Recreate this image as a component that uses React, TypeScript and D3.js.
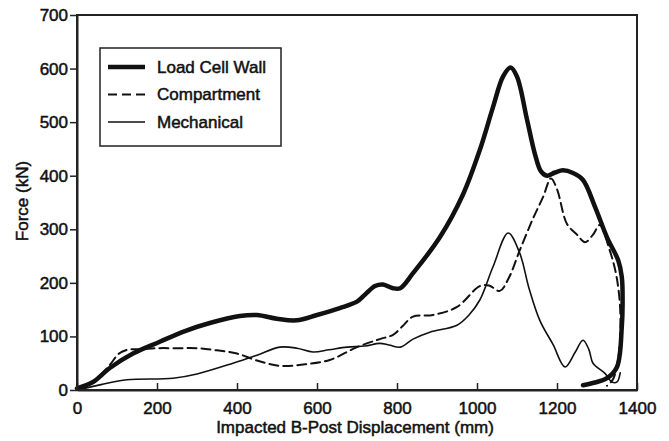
import { useEffect, useRef } from 'react';
import * as d3 from 'd3';

// values (mm, kN)
const loadCellX = [0, 40, 82, 140, 207, 270, 332, 407, 450, 500, 549, 600, 657, 700, 720, 745, 765, 790, 808, 840, 907, 965, 1007, 1040, 1065, 1084, 1100, 1125, 1145, 1160, 1175, 1195, 1215, 1240, 1265, 1295, 1325, 1353, 1362, 1364, 1362, 1350, 1325, 1295, 1265];
const loadCellY = [3, 15, 41, 68, 90, 110, 125, 138, 140, 133, 130, 140, 153, 165, 178, 194, 197, 190, 190, 218, 285, 365, 448, 528, 585, 602, 585, 505, 440, 408, 400, 406, 410, 405, 392, 342, 285, 242, 211, 160, 118, 43, 22, 14, 9];

const compartmentX = [0, 40, 80, 105, 125, 160, 200, 250, 300, 350, 400, 450, 507, 570, 632, 700, 757, 790, 815, 840, 890, 950, 1007, 1030, 1057, 1080, 1107, 1140, 1165, 1185, 1200, 1225, 1250, 1270, 1290, 1307, 1330, 1348, 1358, 1355, 1340, 1325];
const compartmentY = [0, 15, 45, 68, 75, 76, 78, 78, 78, 74, 68, 55, 45, 48, 56, 80, 95, 103, 120, 137, 140, 155, 194, 195, 185, 210, 261, 320, 360, 395, 375, 310, 290, 276, 290, 308, 265, 215, 150, 70, 20, 8];

const mechanicalX = [0, 60, 125, 240, 300, 390, 450, 507, 550, 590, 630, 675, 720, 757, 780, 808, 840, 882, 950, 980, 1007, 1040, 1078, 1107, 1130, 1157, 1190, 1220, 1245, 1265, 1280, 1290, 1320, 1337, 1350, 1358];
const mechanicalY = [0, 10, 19, 22, 30, 50, 65, 80, 78, 71, 75, 80, 82, 87, 84, 80, 95, 108, 121, 140, 168, 230, 293, 255, 190, 130, 85, 43, 70, 93, 75, 50, 31, 15, 15, 32];

const xTicks = [0, 200, 400, 600, 800, 1000, 1200, 1400];
const yTicks = [0, 100, 200, 300, 400, 500, 600, 700];

const legendNames = ['Load Cell Wall', 'Compartment', 'Mechanical'];

const W = 669;
const H = 441;
const left = 77, right = 637, top = 15, bottom = 390;
const font = 'Arial, "Liberation Sans", sans-serif';

export default function App() {
  const svgRef = useRef<SVGSVGElement>(null);

  useEffect(() => {
    const svg = d3.select(svgRef.current);
    svg.selectAll('*').remove();

    const x = d3.scaleLinear().domain([0, 1400]).range([left, right]);
    const y = d3.scaleLinear().domain([0, 700]).range([bottom, top]);

    const series = [
      { xs: loadCellX, ys: loadCellY, width: 4.5, dash: null },
      { xs: compartmentX, ys: compartmentY, width: 2, dash: '9,5' },
      { xs: mechanicalX, ys: mechanicalY, width: 1.6, dash: null },
    ];

    const line = d3
      .line<[number, number]>()
      .x((d) => x(d[0]))
      .y((d) => y(d[1]))
      .curve(d3.curveCatmullRom.alpha(0.5));

    series.forEach((s) => {
      const pts = s.xs.map((v, i) => [v, s.ys[i]] as [number, number]);
      svg
        .append('path')
        .attr('d', line(pts))
        .attr('fill', 'none')
        .attr('stroke', '#111')
        .attr('stroke-width', s.width)
        .attr('stroke-linejoin', 'round')
        .attr('stroke-linecap', 'round')
        .attr('stroke-dasharray', s.dash);
    });

    // frame
    svg
      .append('rect')
      .attr('x', left)
      .attr('y', top)
      .attr('width', right - left)
      .attr('height', bottom - top)
      .attr('fill', 'none')
      .attr('stroke', '#222')
      .attr('stroke-width', 2);

    const xAxis = svg
      .append('g')
      .attr('transform', `translate(0,${bottom})`)
      .call(
        d3
          .axisBottom(x)
          .tickValues(xTicks)
          .tickFormat(d3.format('d'))
          .tickSizeInner(-7)
          .tickSizeOuter(0)
          .tickPadding(12)
      );
    const yAxis = svg
      .append('g')
      .attr('transform', `translate(${left},0)`)
      .call(
        d3
          .axisLeft(y)
          .tickValues(yTicks)
          .tickFormat(d3.format('d'))
          .tickSizeInner(7)
          .tickSizeOuter(0)
          .tickPadding(2)
      );

    const styleText = (sel: any) =>
      sel
        .attr('font-family', font)
        .attr('font-size', 17)
        .attr('fill', '#111')
        .attr('stroke', '#111')
        .attr('stroke-width', 0.5);

    [xAxis, yAxis].forEach((a) => {
      a.select('.domain').attr('stroke', '#222').attr('stroke-width', 2);
      a.selectAll('line').attr('stroke', '#222').attr('stroke-width', 1.5);
      styleText(a.selectAll('text'));
    });

    styleText(
      svg
        .append('text')
        .attr('x', 355)
        .attr('y', 433)
        .attr('text-anchor', 'middle')
        .text('Impacted B-Post Displacement (mm)')
    );

    styleText(
      svg
        .append('text')
        .attr('transform', 'translate(28,201) rotate(-90)')
        .attr('text-anchor', 'middle')
        .text('Force (kN)')
    );

    // legend
    const lg = svg.append('g');
    lg.append('rect')
      .attr('x', 100)
      .attr('y', 48)
      .attr('width', 181)
      .attr('height', 98)
      .attr('fill', '#fff')
      .attr('stroke', '#222')
      .attr('stroke-width', 1.5);

    legendNames.forEach((name, i) => {
      const cy = 67 + i * 27.5;
      const s = series[i];
      lg.append('line')
        .attr('x1', 108)
        .attr('x2', 145)
        .attr('y1', cy)
        .attr('y2', cy)
        .attr('stroke', '#111')
        .attr('stroke-width', s.width)
        .attr('stroke-dasharray', s.dash);
      styleText(
        lg
          .append('text')
          .attr('x', 157)
          .attr('y', cy)
          .attr('dy', '0.35em')
          .text(name)
      );
    });
  }, []);

  return (
    <svg
      ref={svgRef}
      width={W}
      height={H}
      style={{ position: 'absolute', left: 0, top: 0, background: '#fff' }}
    />
  );
}
